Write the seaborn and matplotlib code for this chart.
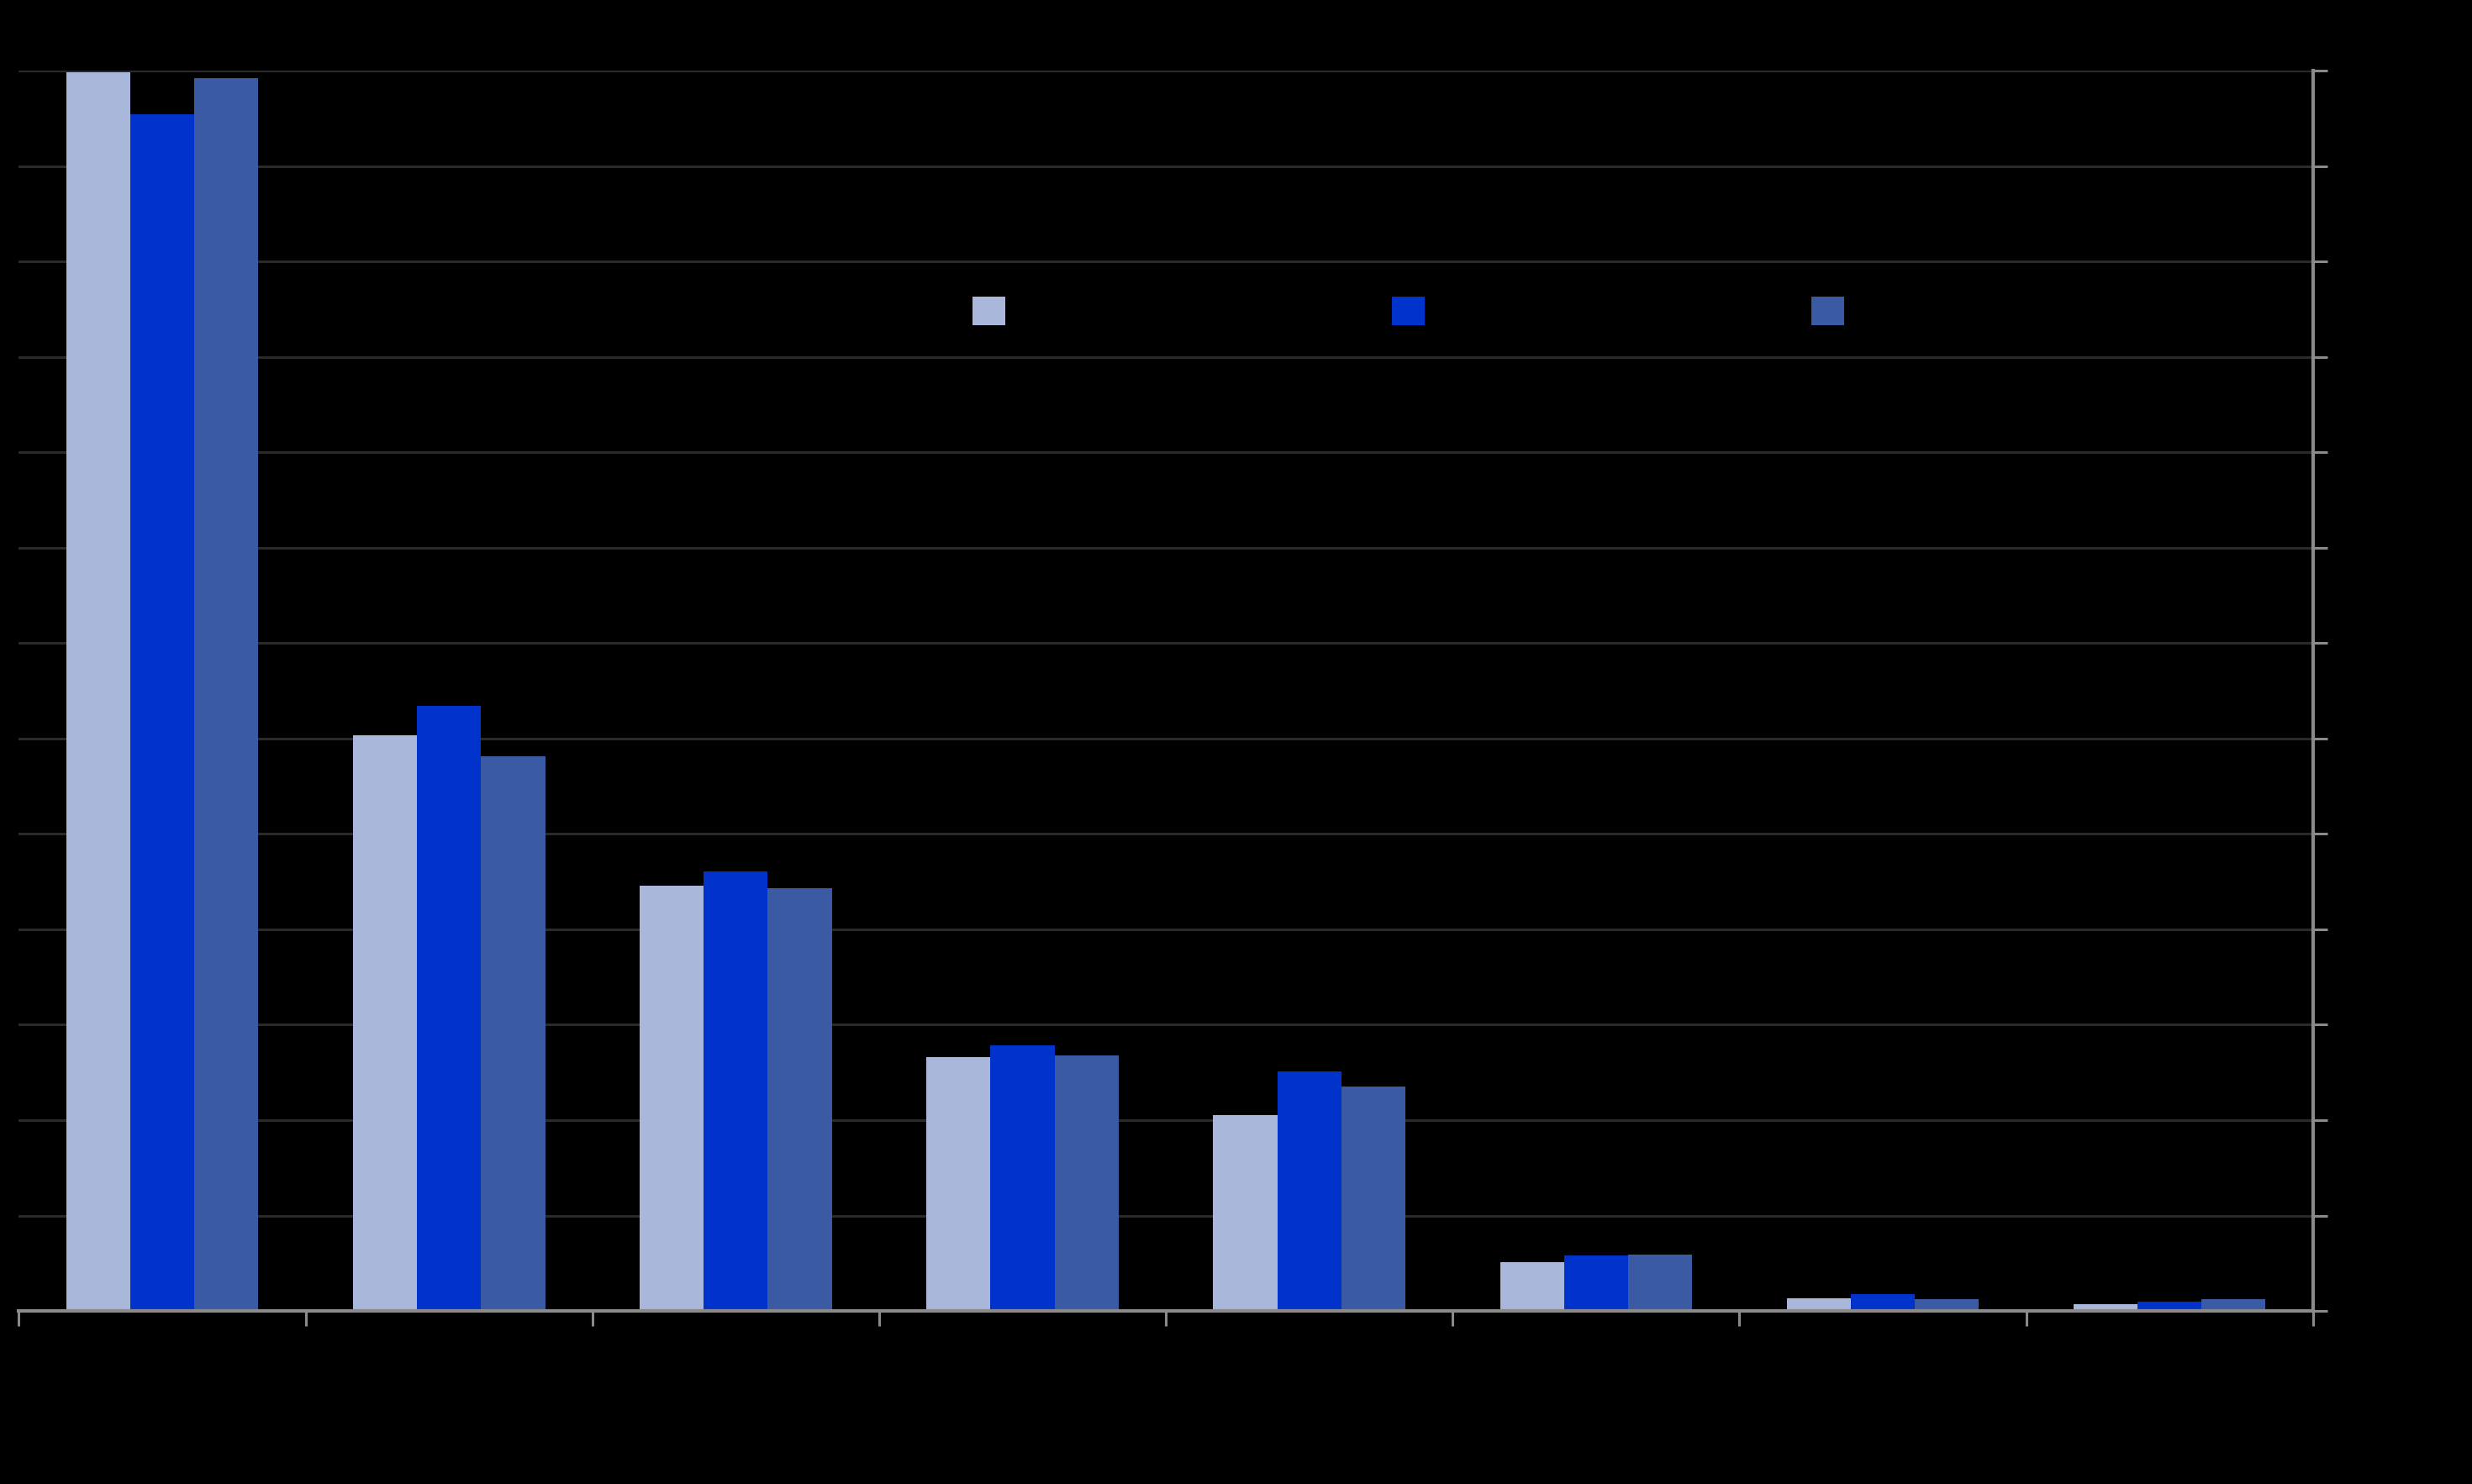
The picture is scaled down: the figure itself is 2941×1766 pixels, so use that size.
import seaborn as sns
import matplotlib.pyplot as plt
import pandas as pd

categories = ["1", "2", "3", "4", "5", "6", "7", "8"]
series_names = ["Series 1", "Series 2", "Series 3"]
series_a = [129.8, 60.3, 44.6, 26.6, 20.5, 5.1, 1.3, 0.7]
series_b = [125.4, 63.4, 46.1, 27.8, 25.1, 5.8, 1.8, 1.0]
series_c = [129.2, 58.1, 44.3, 26.8, 23.5, 5.9, 1.2, 1.2]
colors = ["#A9B7DB", "#0033CC", "#3A5BA3"]

df = pd.DataFrame({
    "Category": categories * 3,
    "Series": [s for s in series_names for _ in categories],
    "Value": series_a + series_b + series_c,
})

sns.set_theme(style="white")
plt.rcParams['font.family'] = ['DejaVu Sans']

fig = plt.figure(figsize=(2941 / 200, 1766 / 200), dpi=200, facecolor="black")
ax = fig.add_axes([0.00765, 0.1166, 0.928, 0.8358])
ax.set_facecolor("black")

sns.barplot(data=df, x="Category", y="Value", hue="Series", palette=colors,
            width=0.67, gap=0, saturation=1, linewidth=0, ax=ax)

ax.set_ylim(0, 130)
ax.set_xlim(-0.5, len(categories) - 0.5)
ax.set_yticks(range(0, 131, 10))
ax.set_xticks([i - 0.5 for i in range(len(categories) + 1)])
ax.set_xticklabels([])
ax.set_yticklabels([])
ax.yaxis.tick_right()
ax.grid(axis="y", color="#2A2A2A", linewidth=1.1)
ax.set_axisbelow(True)
ax.set_xlabel("")
ax.set_ylabel("")

for side in ["top", "left"]:
    ax.spines[side].set_visible(False)
for side in ["bottom", "right"]:
    ax.spines[side].set_color("#8A8A8A")
    ax.spines[side].set_linewidth(1.5)
ax.tick_params(axis="x", bottom=True, direction="out", length=6.5, width=1.1, color="#8A8A8A")
ax.tick_params(axis="y", right=True, left=False, direction="out", length=6, width=1.1, color="#8A8A8A")

handles, labels = ax.get_legend_handles_labels()
leg = ax.legend(handles, labels, ncol=3, loc="center", bbox_to_anchor=(0.64, 0.805),
                frameon=False, handlelength=1.0, handleheight=1.0, columnspacing=7,
                fontsize=14, labelcolor="black")

plt.savefig("out.png", dpi=200, facecolor="black")
plt.close()
